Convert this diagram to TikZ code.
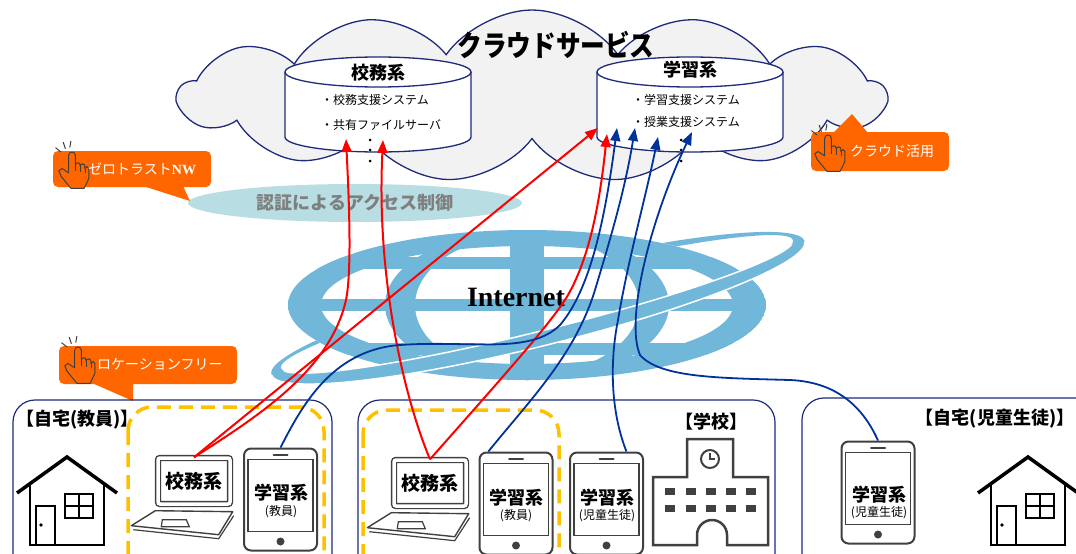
\documentclass[tikz,border=0pt]{standalone}
\usepackage{fontspec}
\setmainfont{Noto Sans CJK JP}
\newfontfamily\titlefont{Noto Sans CJK JP}[FakeStretch=0.85]
\newfontfamily\romanbf{Liberation Serif}
\usetikzlibrary{arrows.meta,calc,shapes.geometric,shapes.symbols}

\definecolor{navy}{RGB}{31,42,122}
\definecolor{cloudgray}{RGB}{242,242,242}
\definecolor{netblue}{RGB}{112,183,218}
\definecolor{authteal}{RGB}{184,222,227}
\definecolor{textgray}{RGB}{127,127,127}
\definecolor{callout}{RGB}{255,102,0}
\definecolor{zoneyellow}{RGB}{255,192,0}
\definecolor{linkblue}{RGB}{0,51,153}
\definecolor{devgray}{RGB}{64,64,64}

\tikzset{
  link/.style={line width=2pt, -{Triangle[length=13pt,width=10pt]}},
  redlink/.style={link, red},
  bluelink/.style={link, linkblue, line width=1.8pt},
  zone/.style={draw=navy, line width=1.2pt, rounded corners=22pt},
  freezone/.style={draw=zoneyellow, line width=3.5pt, dash pattern=on 14pt off 8pt, rounded corners=24pt},
  callbox/.style={fill=callout, rounded corners=5pt},
  calltext/.style={anchor=west, text=white, font=\fontsize{14}{16}\selectfont},
  listitem/.style={anchor=west, font=\fontsize{12}{14}\selectfont},
  zonelabel/.style={font=\bfseries\fontsize{18}{20}\selectfont},
  devlabel/.style={font=\bfseries\fontsize{18}{20}\selectfont},
  devsub/.style={font=\fontsize{12}{14}\selectfont},
  lapscreen/.style={draw=devgray, line width=1.4pt, double=white, double distance=3.5pt,
    rounded corners=2pt, minimum width=72pt, minimum height=46pt,
    font=\bfseries\fontsize{19}{21}\selectfont},
  tabletbox/.style={draw=devgray, fill=white, line width=2pt, rounded corners=7pt,
    minimum width=73pt, minimum height=102pt},
  hand/.pic={
    \draw[devgray, line width=1pt, fill=callout, line join=round]
      (-3,19) -- (-3,3) arc(180:360:3) -- (3,12) arc(180:360:2.2) -- (7.4,13) arc(180:360:2.2)
      -- (11.8,15) arc(180:360:1.8) -- (15.4,24) -- (11,33) -- (-1,33) -- (-10,22) -- (-12,17) -- (-9,15) -- cycle;
    \draw[devgray, line width=0.8pt] (3,12) -- (3,17) (7.4,13) -- (7.4,18) (11.8,15) -- (11.8,19);
    \draw[devgray, line width=1pt] (-6,-3) -- (-8,-9) (-10,0) -- (-15,-4) (-2,-4) -- (-1,-10);
  },
  house/.pic={
    \draw[black, line width=3.5pt] (-50,36) -- (0,0) -- (50,36);
    \draw[black, line width=2pt] (-37,27) -- (-37,88) -- (37,88) -- (37,27);
    \draw[black, line width=2pt] (-31,88) -- (-31,49) -- (-12,49) -- (-12,88);
    \fill[black] (-26,68) circle (1.8);
    \draw[black, line width=2pt] (-2,37) rectangle (26,61) (12,37) -- (12,61) (-2,49) -- (26,49);
  }
}

\begin{document}
\begin{tikzpicture}[x=1pt, y=-1pt, every node/.style={inner sep=0pt}]
\useasboundingbox (0,0) rectangle (1076,554);
\clip (0,0) rectangle (1076,554);

% Cloud services
\node[cloud, cloud puffs=13, cloud puff arc=110, aspect=4.3, draw=navy, fill=cloudgray,
  line width=1.3pt, minimum width=707pt, minimum height=172pt] (cloud) at (532,96) {};
\node[font=\titlefont\bfseries\fontsize{29}{32}\selectfont] (cloudtitle) at (556,45) {クラウドサービス};

% Databases
\foreach \cx in {378,690} {
  \filldraw[draw=navy, fill=white, line width=1.3pt] (\cx-93,72) -- (\cx-93,137) arc(180:0:93 and 15)
    -- (\cx+93,72) arc(0:-180:93 and 15) -- cycle;
  \draw[navy, line width=1.3pt] (\cx-93,72) arc(180:0:93 and 15);
}
\node[devlabel] (kmuname) at (378,73) {校務系};
\node[listitem] (kmu1) at (321,100) {・校務支援システム};
\node[listitem] (kmu2) at (321,125) {・共有ファイルサーバ};
\node[devlabel] (gakname) at (690,70) {学習系};
\node[listitem] (gak1) at (632,100) {・学習支援システム};
\node[listitem] (gak2) at (632,122) {・授業支援システム};
\foreach \dx in {370,681}
  \foreach \dy in {140,150,161}
    \fill (\dx,\dy) circle (1.5);

% Access control
\node[ellipse, fill=authteal, minimum width=334pt, minimum height=38pt, text=textgray,
  font=\bfseries\fontsize{18}{20}\selectfont] (auth) at (355,203) {認証によるアクセス制御};

% Callouts
\fill[callout] (143,186) -- (190,201) -- (183,186) -- cycle;
\node[callbox, minimum width=158pt, minimum height=36pt] (ztbox) at (132,169) {};
\pic[scale=1.1] at (72,152) {hand};
\node[calltext] (zttext) at (88,169) {ゼロトラスト{\romanbf\bfseries NW}};

\fill[callout] (833,133) -- (852,114) -- (868,133) -- cycle;
\node[callbox, minimum width=138pt, minimum height=39pt] (clbox) at (880,151.5) {};
\pic[scale=1.1] at (828,135) {hand};
\node[calltext] (cltext) at (850,151) {クラウド活用};

\fill[callout] (92,383) -- (133,401) -- (133,383) -- cycle;
\node[callbox, minimum width=178pt, minimum height=38pt] (lfbox) at (148,365) {};
\pic[scale=1.1] at (78,347) {hand};
\node[calltext] (lftext) at (97,364) {ロケーションフリー};

% Internet globe
\begin{scope}[shift={(538,308)}, rotate=14]
  \fill[netblue, even odd rule] (0,0) ellipse (275 and 38) (0,-4) ellipse (264 and 27);
\end{scope}
\begin{scope}
  \clip (527,305) ellipse (239 and 75);
  \fill[white] (527,305) ellipse (239 and 75);
  \fill[netblue, even odd rule] (527,305) ellipse (239 and 75) (527,305) ellipse (206 and 59);
  \fill[netblue, even odd rule] (527,305) ellipse (142 and 75) (527,305) ellipse (112 and 70);
  \fill[netblue] (510,220) rectangle (544,390);
  \foreach \ly in {263,305,349}
    \fill[netblue] (280,\ly-6) rectangle (780,\ly+6);
\end{scope}
\begin{scope}[shift={(538,308)}, rotate=14]
  \clip (-290,0) rectangle (290,50);
  \filldraw[fill=netblue, draw=white, line width=1.5pt, even odd rule] (0,0) ellipse (275 and 38) (0,-4) ellipse (264 and 27);
\end{scope}
\node[font=\romanbf\bfseries\fontsize{28}{30}\selectfont] (inet) at (516,297) {Internet};

% Places
\draw[zone] (13,400) rectangle (332,580);
\draw[zone] (358,400) rectangle (775,580);
\draw[zone] (802,398) rectangle (1110,580);
\draw[freezone] (128,407) rectangle (324,590);
\draw[freezone] (363,410) rectangle (559,590);
\node[zonelabel, anchor=west] (hometitle) at (16,420) {【自宅(教員)】};
\node[zonelabel] (schooltitle) at (711,422) {【学校】};
\node[zonelabel] (kidtitle) at (995,419) {【自宅(児童生徒)】};

\pic at (67,457) {house};
\pic at (1028,457) {house};

% School building
\draw[devgray, line width=2.5pt] (653,545) -- (653,477) -- (687,477) -- (687,439) -- (733,439) -- (733,477)
  -- (768,477) -- (768,545) -- (727,545) -- (727,535) arc(0:-180:15) -- (697,545) -- cycle;
\draw[devgray, line width=2pt] (710,459) circle (9);
\draw[devgray, line width=1.5pt] (710,453) -- (710,459) -- (715,459);
\foreach \wx in {670,691,711,731,751}
  \foreach \wy in {491,508}
    \fill[devgray] (\wx-5,\wy-3.5) rectangle (\wx+5,\wy+3.5);

% Laptops
\node[lapscreen] (hlap) at (194,481) {校務系};
\node[lapscreen] (slap) at (430,483) {校務系};
\foreach \lp in {hlap,slap} {
  \draw[devgray, line width=1.4pt, line join=round] ($(\lp.south west)+(-2,6)$) -- ($(\lp.south east)+(2,7)$)
    -- ($(\lp.south east)+(-12,30)$) -- ($(\lp.south west)+(-26,21)$) -- cycle;
  \draw[devgray, line width=1.2pt] ($(\lp.south west)+(-24,25)$) -- ($(\lp.south east)+(-12,34)$) -- ($(\lp.south east)+(3,11)$);
  \draw[devgray, line width=1.2pt] ($(\lp.south west)+(5,15)$) -- ++(24,0) -- ++(3,7) -- ++(-28,0) -- cycle;
}

% Tablets
\foreach \tb/\tx/\ty in {htab/280.5/499.5, stab/516/503.5, ctab/606.5/503.5, ktab/878/492.5} {
  \node[tabletbox] (\tb) at (\tx,\ty) {};
  \draw[devgray, line width=1.3pt] ($(\tb.north west)+(5,12)$) rectangle ($(\tb.south east)+(-5,-20)$);
  \draw[devgray, line width=2pt, line cap=round] ($(\tb.north)+(-7,7)$) -- ($(\tb.north)+(7,7)$);
  \fill[devgray] ($(\tb.south)+(0,-10)$) circle (4);
}
\node[devlabel] (htabname) at (281,493) {学習系};
\node[devsub] (htabuser) at (281,512) {(教員)};
\node[devlabel] (stabname) at (516,498) {学習系};
\node[devsub] (stabuser) at (516,516) {(教員)};
\node[devlabel] (ctabname) at (607,498) {学習系};
\node[devsub] (ctabuser) at (607,516) {(児童生徒)};
\node[devlabel] (ktabname) at (879,495) {学習系};
\node[devsub] (ktabuser) at (879,513) {(児童生徒)};

% Access paths
\coordinate (kmuin1) at (346,139);
\coordinate (kmuin2) at (383,140);
\coordinate (gakin1) at (598,128);
\coordinate (gakin2) at (607,134);
\coordinate (gakin3) at (617,128);
\coordinate (gakin4) at (635,128);
\coordinate (gakin5) at (658,137);
\coordinate (gakin6) at (692,132);

\draw[redlink] (hlap.north) .. controls (260,415) and (330,370) .. (346,300) .. controls (352,270) and (349,200) .. (kmuin1);
\draw[redlink] (slap.north) .. controls (405,400) and (376,280) .. (kmuin2);
\draw[redlink] (hlap.north) -- (gakin1);
\draw[redlink] (slap.north) .. controls (500,380) and (545,330) .. (565,300) .. controls (590,260) and (600,200) .. (gakin2);
\draw[bluelink] (htab.north) .. controls (300,410) and (330,350) .. (400,345) .. controls (470,340) and (530,355) .. (560,325)
  .. controls (590,290) and (605,220) .. (gakin3);
\draw[bluelink] (stab.118) .. controls (530,400) and (575,355) .. (595,290) .. controls (610,240) and (625,190) .. (gakin4);
\draw[bluelink] (ctab.69) .. controls (610,410) and (610,360) .. (618,320) .. controls (628,260) and (645,200) .. (gakin5);
\draw[bluelink] (ktab.north) .. controls (862,405) and (835,382) .. (790,380) .. controls (720,378) and (660,378) .. (640,355)
  .. controls (625,320) and (650,220) .. (gakin6);
\end{tikzpicture}
\end{document}
